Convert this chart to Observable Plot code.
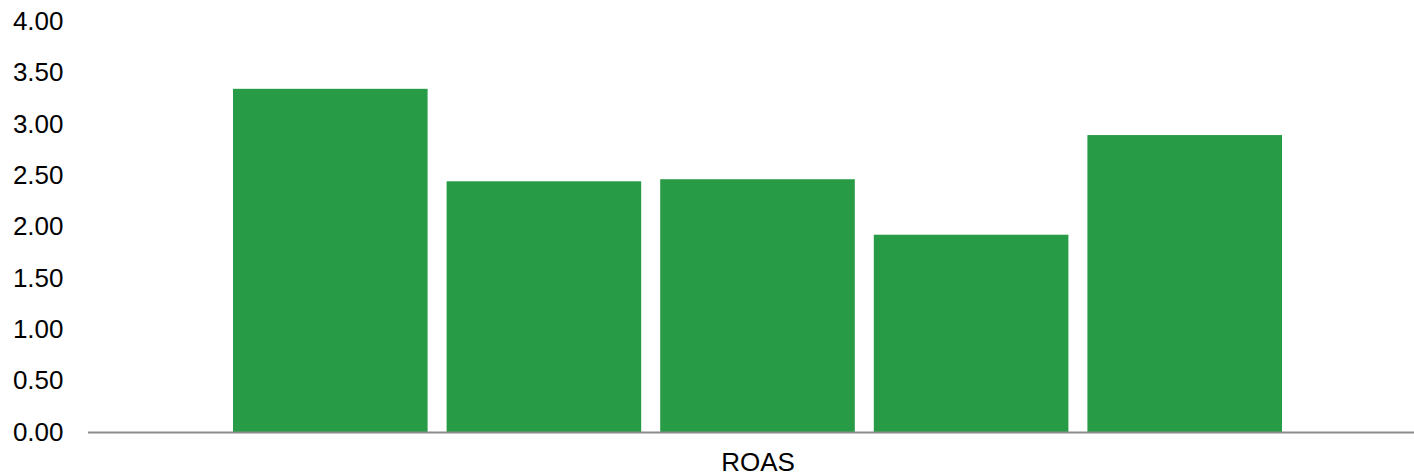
<!DOCTYPE html>
<html>
<head>
<meta charset="utf-8">
<script src="https://cdn.jsdelivr.net/npm/d3@7"></script>
<script src="https://cdn.jsdelivr.net/npm/@observablehq/plot@0.6"></script>
<style>
  html, body { margin: 0; padding: 0; background: #fff; overflow: hidden; }
  #chart svg { overflow: hidden; }
</style>
</head>
<body>
<div id="chart"></div>
<script>
const categories = ["ROAS"];
const seriesNames = ["Series 1", "Series 2", "Series 3", "Series 4", "Series 5"];
const seriesValues = [3.34, 2.44, 2.46, 1.92, 2.89];
const yTicks = [0, 0.5, 1, 1.5, 2, 2.5, 3, 3.5, 4];

const data = seriesNames.map((s, i) => ({category: categories[0], series: s, value: seriesValues[i]}));

const chart = Plot.plot({
  width: 1414,
  height: 475,
  marginTop: 21,
  marginBottom: 43,
  marginLeft: 88,
  marginRight: -13,
  style: {fontFamily: "Arial, 'Liberation Sans', sans-serif", fontSize: "26px", color: "#000", background: "#fff"},
  fx: {domain: categories, paddingInner: 0, paddingOuter: 0, label: null},
  x: {domain: seriesNames, paddingInner: 0.089, paddingOuter: 0, insetLeft: 145, insetRight: 145, round: false, axis: null},
  y: {domain: [0, 4], ticks: yTicks, tickFormat: d => d.toFixed(2), label: null},
  marks: [
    Plot.barY(data, {fx: "category", x: "series", y: "value", fill: "#279b45"}),
    Plot.axisY({ticks: yTicks, tickFormat: d => d.toFixed(2), tickSize: 0, tickPadding: 25, label: null, fontSize: 26, fill: "#000"}),
    Plot.axisFx({anchor: "bottom", tickSize: 0, tickPadding: 20, label: null, fontSize: 26, fill: "#000"}),
    Plot.ruleY([0], {stroke: "#8c8c8c", strokeWidth: 2})
  ]
});
document.getElementById("chart").appendChild(chart);
</script>
</body>
</html>
